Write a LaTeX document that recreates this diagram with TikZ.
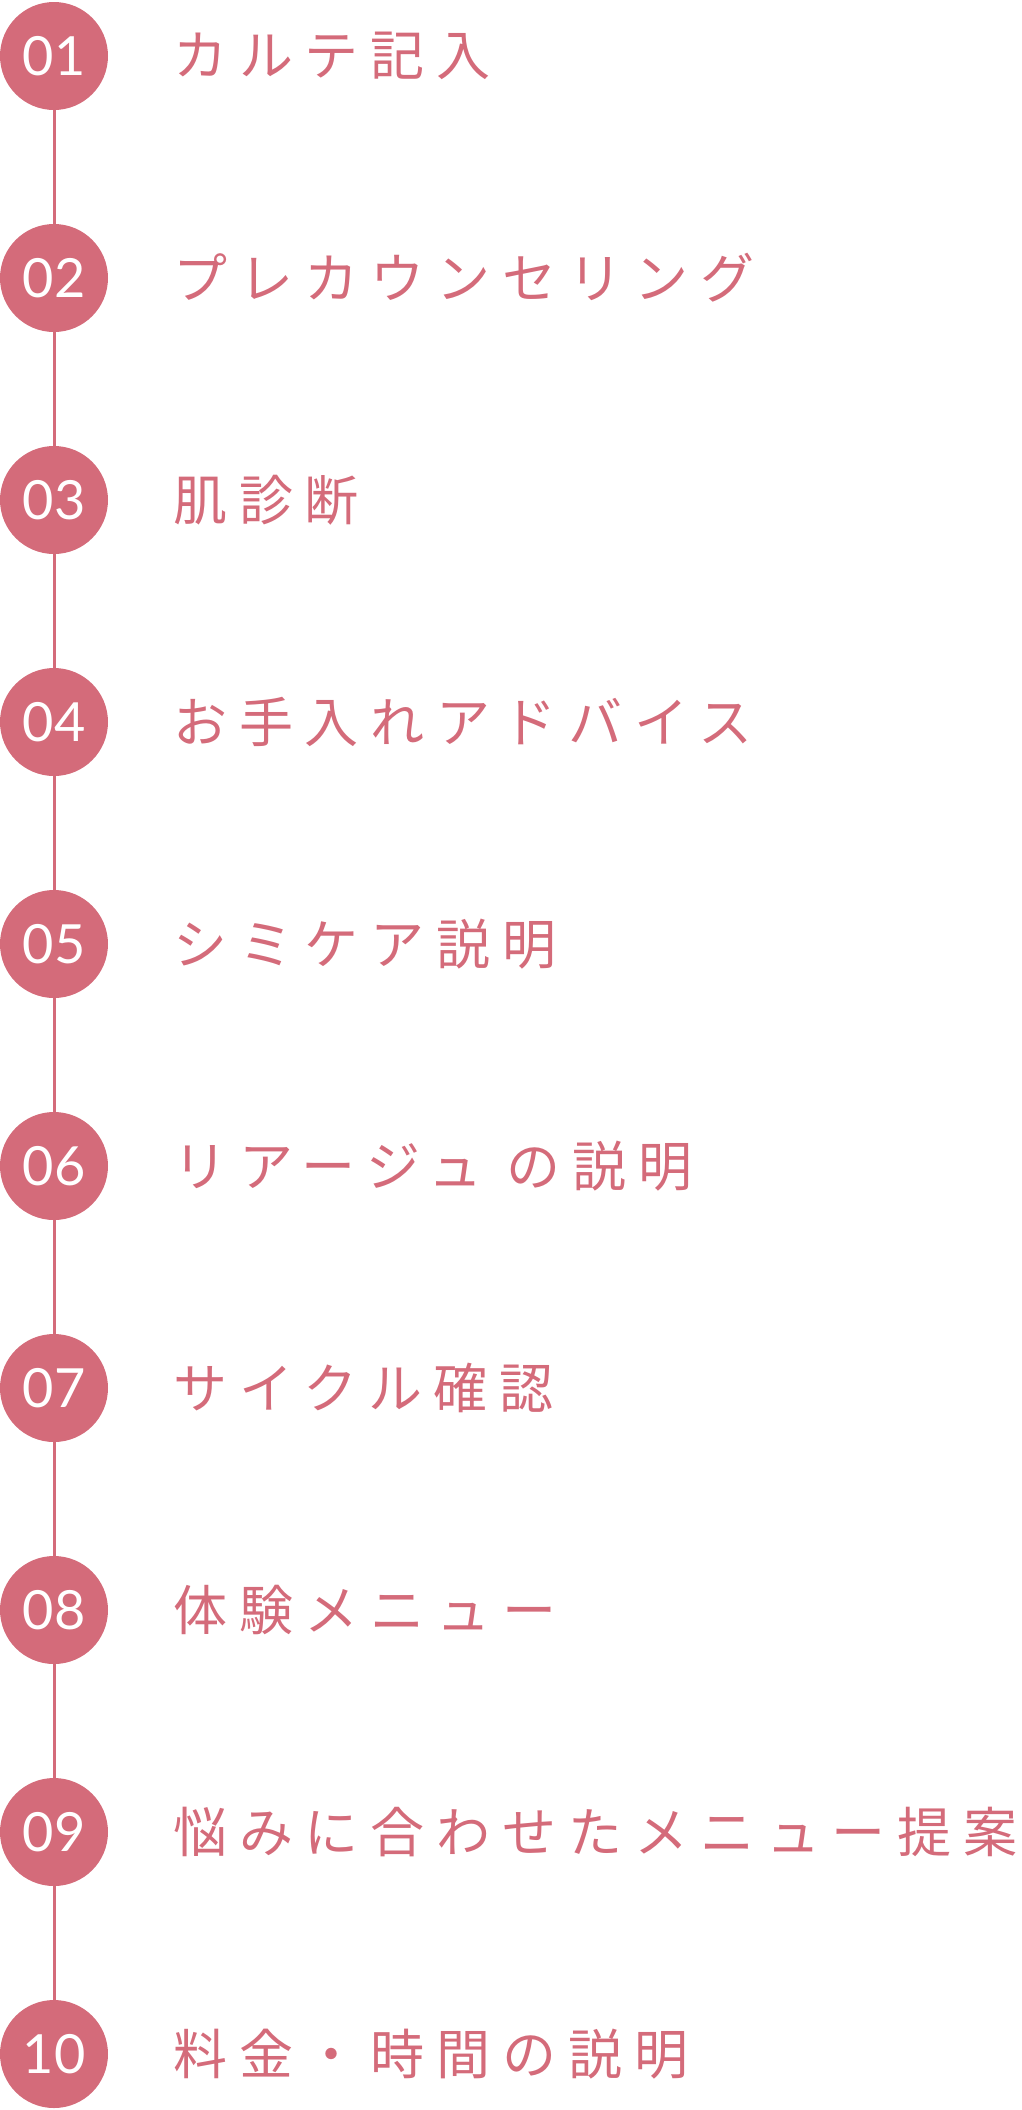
\documentclass[tikz,border=0pt]{standalone}
\usepackage{fontspec}
\newfontfamily\jp[LetterSpace=22]{Noto Sans CJK JP}
\newfontfamily\num{Lato}
\definecolor{rose}{HTML}{D46B7A}
\begin{document}
\begin{tikzpicture}[x=1pt,y=-1pt,
  numc/.style={circle,fill=rose,minimum size=108pt,inner sep=0pt,text=white,font=\num\fontsize{54}{54}\selectfont},
  lbl/.style={anchor=west,inner sep=0pt,text=rose,font=\jp\fontsize{54}{54}\selectfont}]
\useasboundingbox (0,0) rectangle (1022,2110);
\foreach \i/\t [count=\k from 0] in {01/カルテ記入,02/プレカウンセリング,03/肌診断,04/お手入れアドバイス,05/シミケア説明,06/リアージュ\ の説明,07/サイクル確認,08/体験メニュー,09/悩みに合わせたメニュー提案,10/料金・時間の説明}{
  \node[numc] (c\k) at (54,{56+222*\k}) {\i};
  \node[lbl] (t\k) at (173,{56+222*\k}) {\t};
}
\foreach \k [evaluate=\k as \n using int(\k+1)] in {0,...,8}{
  \draw[rose,line width=3pt] (c\k.south) -- (c\n.north);
}
\end{tikzpicture}
\end{document}
